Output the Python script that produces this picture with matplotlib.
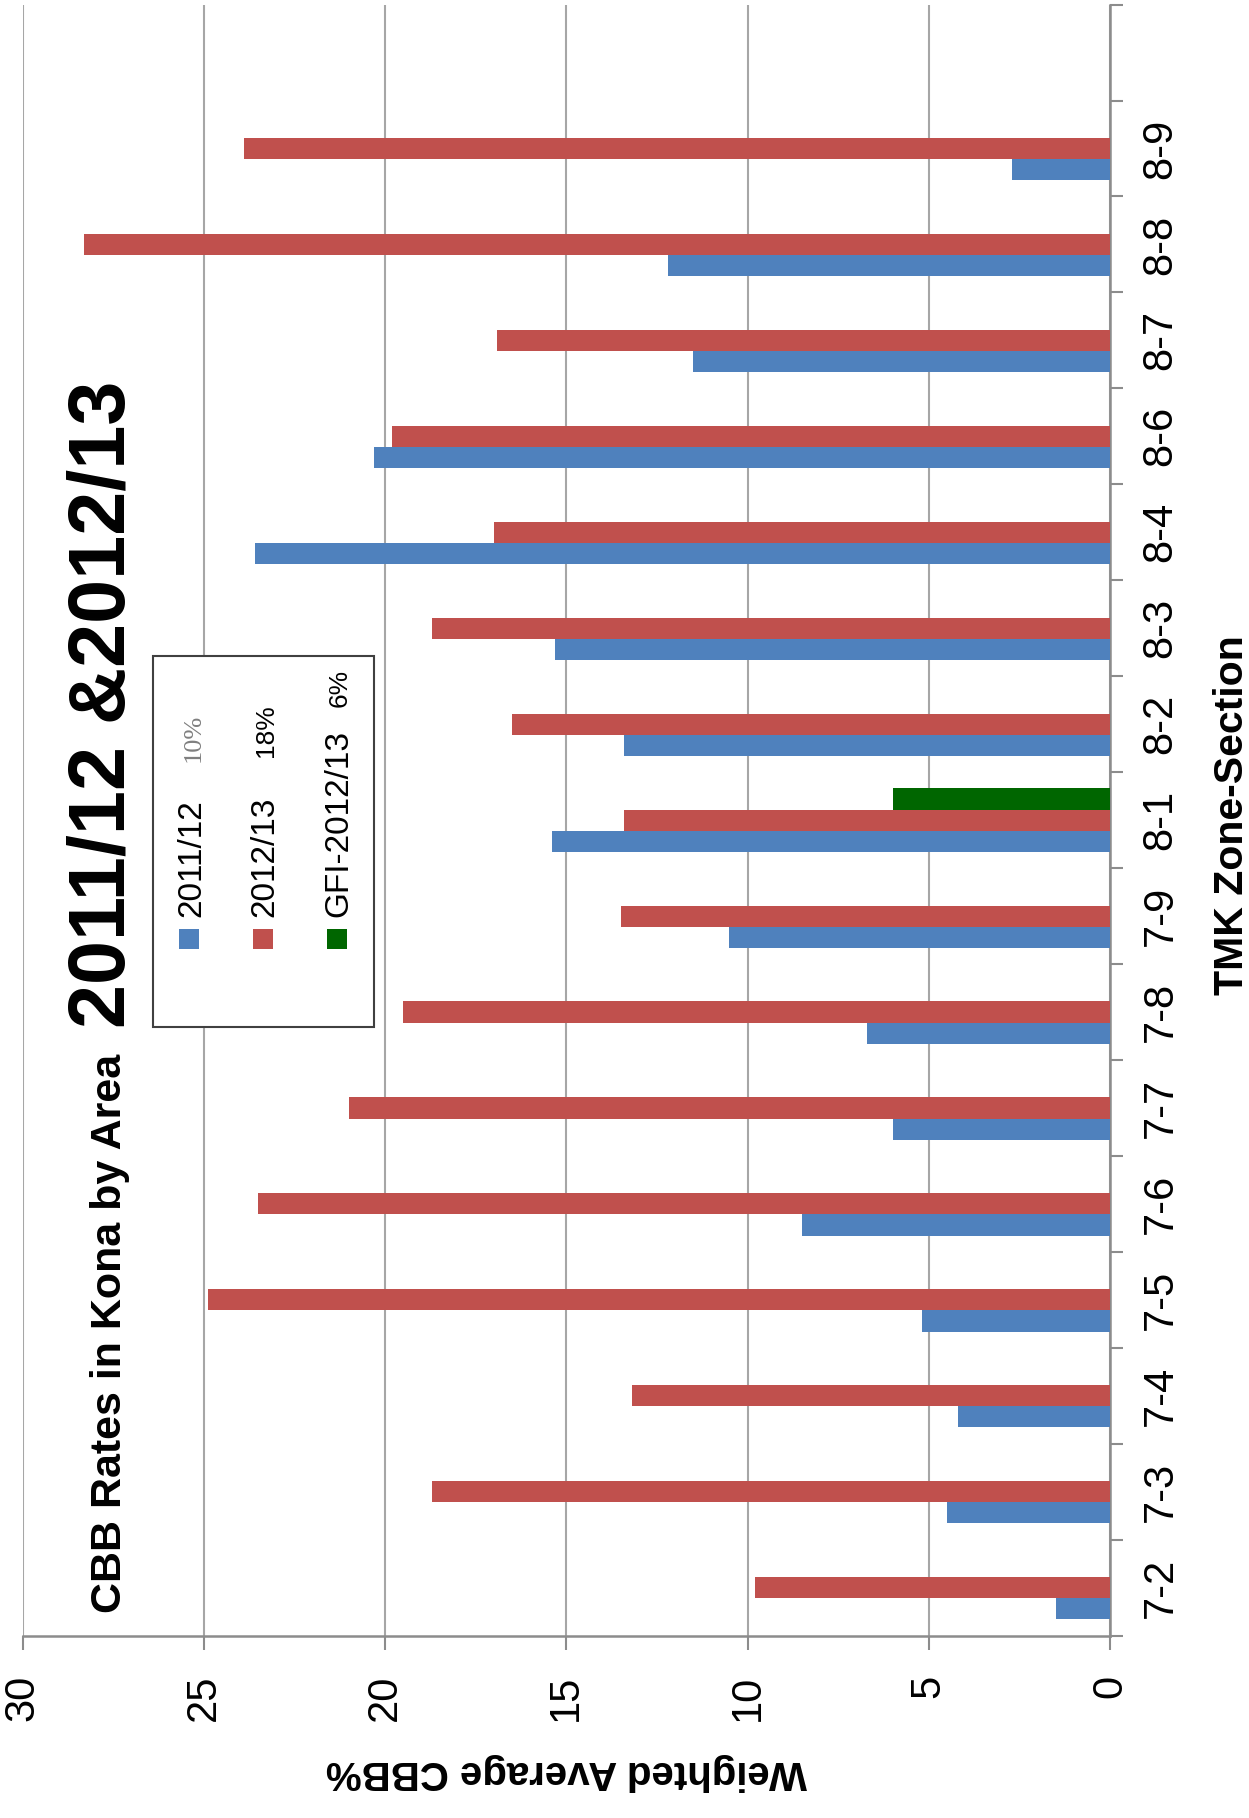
import matplotlib

matplotlib.use("Agg")

import matplotlib.pyplot as plt
import numpy as np
from matplotlib.patches import Rectangle

plt.rcParams["font.family"] = ["Liberation Sans", "DejaVu Sans"]

# chart values
zones = [
    "7-2", "7-3", "7-4", "7-5", "7-6", "7-7", "7-8", "7-9",
    "8-1", "8-2", "8-3", "8-4", "8-6", "8-7", "8-8", "8-9",
]
rate_2011 = [1.5, 4.5, 4.2, 5.2, 8.5, 6.0, 6.7, 10.5,
             15.4, 13.4, 15.3, 23.6, 20.3, 11.5, 12.2, 2.7]
rate_2012 = [9.8, 18.7, 13.2, 24.9, 23.5, 21.0, 19.5, 13.5,
             13.4, 16.5, 18.7, 17.0, 19.8, 16.9, 28.3, 23.9]
rate_gfi = [0, 0, 0, 0, 0, 0, 0, 0,
            6.0, 0, 0, 0, 0, 0, 0, 0]
value_ticks = [0, 5, 10, 15, 20, 25, 30]

series_labels = ["2011/12", "2012/13", "GFI-2012/13"]
series_notes = ["10%", "18%", "6%"]

BLUE = "#4F81BD"
RED = "#C0504D"
GREEN = "#006600"
GRID = "#A6A6A6"
AXIS = "#8C8C8C"

W, H = 1249, 1818


def fx(px):
    return px / W


def fy(py):
    return 1 - py / H


fig = plt.figure(figsize=(W / 100, H / 100), dpi=100)
ax = fig.add_axes([fx(22.7), fy(1635.7), fx(1110 - 22.7), (1635.7 - 4.6) / H])

pos = np.arange(len(zones))
bar_h = 0.22
ax.barh(pos - bar_h, rate_2011, height=bar_h, color=BLUE, zorder=3)
ax.barh(pos, rate_2012, height=bar_h, color=RED, zorder=3)
ax.barh(pos + bar_h, rate_gfi, height=bar_h, color=GREEN, zorder=3)

ax.set_xlim(30, 0)
ax.set_ylim(-0.5, len(zones) + 0.5)

ax.set_xticks(value_ticks)
ax.set_xticklabels([str(v) for v in value_ticks], rotation=90)
ax.tick_params(axis="x", direction="out", length=10, width=1.5, color=AXIS,
               pad=18, labelsize=30)
ax.grid(axis="x", color=GRID, linewidth=1.5, zorder=0)
ax.set_axisbelow(True)

ax.yaxis.tick_right()
ax.set_yticks(np.arange(-0.5, len(zones) + 1.0, 1.0))
ax.set_yticklabels([])
ax.set_yticks(pos, minor=True)
ax.set_yticklabels(zones, minor=True, rotation=90, va="center")
ax.tick_params(axis="y", which="major", direction="out", length=9.5,
               width=1.5, color=AXIS)
ax.tick_params(axis="y", which="minor", length=0, pad=22, labelsize=30)

for side in ("top", "left"):
    ax.spines[side].set_visible(False)
for side in ("right", "bottom"):
    ax.spines[side].set_color(AXIS)
    ax.spines[side].set_linewidth(1.8)

ax.set_xlabel("Weighted Average CBB%", fontsize=29, fontweight="bold",
              rotation=180, va="center", ha="center")
ax.xaxis.set_label_coords(0.5, -(1772 - 1635.7) / 1631)
ax.yaxis.set_label_position("right")
ax.set_ylabel("TMK Zone-Section", fontsize=29.5, fontweight="bold",
              rotation=90, va="center", ha="center")
ax.yaxis.set_label_coords((1232 - 22.7) / 1087.3, 0.503)

# title, two sizes, reading bottom to top
fig.text(fx(121), fy(1613), "CBB Rates in Kona by Area", rotation=90,
         rotation_mode="anchor", ha="left", va="baseline", fontsize=31,
         fontweight="bold")
fig.text(fx(125), fy(1028), "2011/12 &2012/13", rotation=90,
         rotation_mode="anchor", ha="left", va="baseline", fontsize=57,
         fontweight="bold")

# legend drawn by hand since the text is rotated
fig.add_artist(Rectangle((fx(153.3), fy(1026.7)), fx(374 - 153.3),
                         (1026.7 - 656) / H, transform=fig.transFigure,
                         facecolor="white", edgecolor="#404040",
                         linewidth=1.5, zorder=5))
colors = [BLUE, RED, GREEN]
col_x = [189.3, 262.7, 336.7]
note_y = [761.7, 757, 706.7]
for i, label in enumerate(series_labels):
    fig.add_artist(Rectangle((fx(col_x[i] - 10), fy(948.7)), fx(20), 20 / H,
                             transform=fig.transFigure, facecolor=colors[i],
                             edgecolor="none", zorder=6))
    fig.text(fx(col_x[i] + 11), fy(916.7), label, rotation=90,
             rotation_mode="anchor", ha="left", va="baseline", fontsize=24,
             zorder=7)
    if i == 0:
        fig.text(fx(col_x[i] + 10), fy(note_y[i]), series_notes[i],
                 rotation=90, rotation_mode="anchor", ha="left",
                 va="baseline", fontsize=19, color="#7F7F7F",
                 family=["Liberation Serif", "DejaVu Serif"], zorder=7)
    else:
        fig.text(fx(col_x[i] + 10), fy(note_y[i]), series_notes[i],
                 rotation=90, rotation_mode="anchor", ha="left",
                 va="baseline", fontsize=19, zorder=7)

fig.savefig("out.png", dpi=100)
